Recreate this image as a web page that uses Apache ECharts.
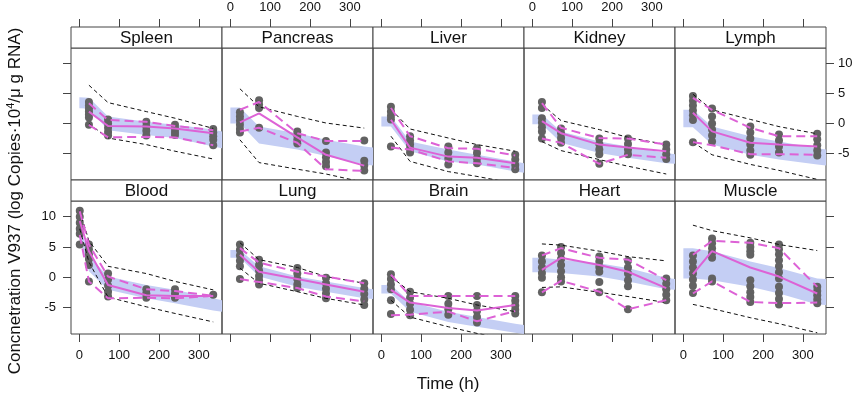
<!DOCTYPE html>
<html lang="en">
<head>
<meta charset="UTF-8">
<title>V937 tissue concentration VPC</title>
<script src="https://cdn.jsdelivr.net/npm/echarts@6/dist/echarts.min.js"></script>
<style>
  html, body { margin: 0; padding: 0; background: #fff; }
  #main { width: 858px; height: 395px; }
</style>
</head>
<body>
<div id="main"></div>
<script>
// panels in lattice order (top row, then bottom row)
var panels = ['Spleen', 'Pancreas', 'Liver', 'Kidney', 'Lymph', 'Blood', 'Lung', 'Brain', 'Heart', 'Muscle'];
var tissueTimes = [24, 72, 168, 240, 336];
var bloodTimes = [1, 24, 72, 168, 240, 336];
var bandTimes = [0, 24, 72, 168, 240, 336, 358];
var xTicks = [0, 100, 200, 300];
var yTicks = [-5, 0, 5, 10];

// observed values, one list per sampling time
var obsPoints = [
  [[3.6, 3.0, 2.5, 2.0, 1.5, 1.0, -0.2], [0.7, 0, -0.7, -1.4, -2.0], [0.3, -0.5, -1.2, -2.0], [-0.2, -0.8, -1.4, -1.9], [-0.9, -1.5, -2.1, -2.7, -3.6]],
  [[1.9, 1.2, 0.5, -0.2, -0.9, -1.5], [3.9, 3.2, 2.6, -0.7], [-1.3, -2.0, -2.7, -3.3], [-2.9, -4.8, -5.6, -6.4, -7.1], [-2.8, -6.2, -7.0, -7.8]],
  [[2.8, 2.0, 1.3, 0.7, -3.8], [-2.1, -2.8, -3.5, -4.2, -4.8], [-3.8, -4.8, -5.8, -6.8], [-4.1, -4.9, -5.8, -6.6], [-5.2, -6.0, -6.9, -7.6]],
  [[3.6, 2.6, 0.9, 0.2, -0.6, -1.3, -2.5], [-0.8, -1.6, -2.4, -3.2], [-2.5, -3.4, -4.3, -5.1, -6.7], [-2.5, -3.4, -4.3, -5.1], [-3.5, -4.3, -5.1, -5.9]],
  [[4.6, 3.8, 3.0, 2.2, 1.4, 0.6, -3.1], [2.5, 1.2, 0, -1.0, -2.0, -3.0], [-0.5, -1.5, -2.5, -3.5, -4.5, -5.2], [-1.8, -2.8, -3.8, -4.8], [-1.7, -2.6, -3.6, -4.5, -5.3]],
  [[11.0, 10.0, 9.0, 8.0, 7.2, 5.4], [5.4, 4.6, 3.8, 3.0, 2.0, -0.7], [0.6, -0.4, -1.4, -2.4, -3.2], [-2.0, -2.7, -3.4], [-2.0, -2.7, -3.4], [-2.9]],
  [[5.4, 4.5, 3.6, 2.7, 1.8, -0.3], [2.9, 2.0, 1.1, 0.2, -0.5, -1.2], [1.5, 0.6, -0.3, -1.2, -1.8], [-0.1, -1.0, -1.9, -2.7, -3.5], [-1.0, -1.9, -2.8, -3.7, -4.6]],
  [[0.5, -0.3, -1.2, -2.0, -3.8, -6.1], [-2.4, -3.4, -4.4, -5.4, -6.3], [-3.1, -4.4, -5.3, -6.2], [-3.1, -4.6, -5.6, -6.6, -7.5], [-3.1, -3.9, -4.7, -5.4, -6.0]],
  [[3.6, 2.6, 1.6, 0.7, -0.1, -2.5], [5.0, 4.0, 3.0, 2.0, 1.0, 0.0, -0.7], [3.4, 2.6, 1.7, 0.9, -0.8, -2.5], [2.7, 1.6, 0.6, -0.5, -1.5, -5.3], [-0.2, -1.1, -2.0, -2.9, -3.8]],
  [[3.6, 2.6, 1.6, 0.6, -0.4, -1.4, -2.6], [6.4, 5.6, 4.8, 4.0, 3.2, -0.2, -0.7], [5.7, 5.0, 4.3, 3.7, -0.5, -1.5, -2.5, -3.3, -4.1], [5.4, 4.6, 3.8, 2.8, 1.8, 0.8, -0.2, -1.6, -2.6, -3.6, -4.5], [-1.6, -2.3, -3.0, -3.7, -4.3]]
];

// observed median and percentiles (pink)
var obsMedian = [
  [2.0, -0.4, -0.5, -0.8, -1.6], [0.2, 1.7, -2.3, -5.2, -7.0], [0.65, -4.0, -5.5, -5.7, -6.6],
  [0.4, -1.6, -3.5, -4.0, -4.6], [1.8, -1.3, -3.2, -3.5, -3.8], [9.3, 4.3, -1.3, -3.0, -3.1, -3.1],
  [3.7, 0.9, -0.3, -1.2, -2.4], [-2.1, -4.2, -5.1, -5.5, -4.6], [1.2, 3.2, 2.0, 0.9, -1.8], [0.5, 4.3, 1.6, 0.1, -2.7]
];
var obsHigh = [
  [3.4, 0.6, 0.3, -0.4, -1.1], [2.3, 3.6, -1.6, -2.9, -2.9], [2.6, -2.1, -4.1, -4.2, -5.3],
  [3.4, -0.7, -2.4, -2.5, -3.5], [4.3, 2.3, -0.7, -2.1, -2.1], [10.9, 5.4, 0.1, -2.0, -2.3, -3.1],
  [4.8, 2.4, 0.9, 0.1, -1.0], [0.4, -3.1, -3.1, -3.1, -3.1], [3.6, 4.8, 3.2, 2.9, -0.5], [3.7, 6.0, 5.7, 4.8, -1.6]
];
var obsLow = [
  [-0.2, -2.3, -2.2, -2.3, -3.6], [-1.3, -0.7, -3.2, -7.6, -7.9], [-4.0, -4.3, -6.3, -6.6, -7.4],
  [-2.5, -3.2, -6.7, -5.2, -5.7], [-3.1, -3.6, -5.1, -5.1, -5.2], [7.0, -0.7, -3.5, -3.4, -3.5, -3.1],
  [-0.3, -0.8, -1.8, -3.2, -4.0], [-6.3, -6.2, -5.7, -7.3, -5.6], [-2.5, -0.6, -2.4, -5.3, -3.8], [-2.7, -0.7, -4.1, -4.3, -4.2]
];

// model prediction interval (black dashed)
var predHigh = [
  [6.4, 3.5, 2.0, 0.9, -0.8], [5.8, 2.8, 1.2, 0.1, -0.75], [2.4, -0.9, -2.4, -3.5, -4.6],
  [3.2, 0.5, -1.0, -2.3, -3.5], [4.9, 2.3, 0.7, -0.5, -1.7], [11.0, 6.0, 1.8, 0.6, -0.7, -2.1],
  [5.7, 2.9, 1.6, 0.1, -1.0], [0.1, -2.4, -3.5, -4.6, -5.7], [5.5, 5.3, 4.3, 3.4, 2.7], [8.6, 7.7, 6.5, 5.4, 4.4]
];
var predLow = [
  [0.0, -2.4, -3.5, -4.6, -5.9], [-2.7, -6.5, -7.6, -8.4, -9.8], [-2.1, -6.3, -8.0, -8.8, -10.0],
  [-3.0, -4.5, -6.0, -7.1, -8.4], [-3.1, -5.2, -6.8, -7.8, -9.3], [8.0, 2.5, -3.3, -4.9, -6.0, -7.4],
  [1.5, -1.0, -2.4, -3.5, -4.6], [-3.8, -6.6, -8.2, -9.3, -10.5], [-1.7, -1.6, -2.5, -3.2, -4.2], [-4.5, -5.2, -6.7, -7.7, -9.2]
];

// CI of predicted median (blue band), at bandTimes
var bandLow = [
  [2.55, 2.5, -1.1, -1.9, -2.4, -3.8, -4.1], [0, 0, -3.3, -4.3, -5.4, -6.8, -7.0], [-0.5, -0.5, -4.6, -6.3, -6.8, -8.0, -8.2],
  [-0.1, -0.1, -3.2, -4.9, -5.7, -6.6, -6.7], [-0.6, -0.6, -3.5, -5.2, -6.0, -6.8, -7.0], [6.5, 1.0, -2.1, -3.5, -4.3, -5.5, -5.7],
  [3.2, 3.2, 0.1, -1.6, -2.4, -3.5, -3.6], [-2.7, -2.7, -5.7, -7.4, -8.2, -9.2, -9.4], [0.8, 0.8, 0.7, 0.1, -0.7, -2.0, -2.1],
  [-0.2, -0.2, -0.5, -1.6, -2.7, -4.5, -4.6]
];
var bandHigh = [
  [4.4, 4.3, 1.2, 0.3, -0.2, -1.0, -1.3], [2.7, 2.7, -0.5, -1.6, -2.7, -3.8, -4.0], [1.2, 1.2, -3.0, -4.3, -5.2, -6.3, -6.6],
  [1.5, 1.5, -1.3, -3.0, -3.8, -4.9, -5.1], [2.3, 2.3, -0.5, -2.1, -3.0, -4.1, -4.3], [9.0, 3.5, 0.1, -1.3, -2.1, -3.5, -3.8],
  [4.5, 4.5, 1.8, 0.1, -0.7, -1.8, -2.0], [-1.3, -1.3, -4.1, -5.7, -6.6, -7.7, -7.9], [3.2, 3.2, 2.9, 2.3, 1.5, -0.1, -0.3],
  [4.8, 4.8, 4.3, 2.6, 1.5, -0.2, -0.3]
];

var FONT = 'Liberation Sans';
var PINK = '#dd62d6';
var BAND = '#c4cef4';
var FRAME = '#444';
var PLEFT = 71, PW = 151, PTOP = [48, 201], PH = [132, 133], STRIP = 21;

function pairs(ts, vs) {
  return ts.map(function (t, i) { return [t, vs[i]]; });
}

var grids = [], xAxes = [], yAxes = [], series = [], graphics = [];

panels.forEach(function (name, p) {
  var row = p < 5 ? 0 : 1, col = p % 5;
  var left = PLEFT + PW * col, top = PTOP[row];
  var times = name === 'Blood' ? bloodTimes : tissueTimes;

  grids.push({ left: left, top: top, width: PW, height: PH[row], show: true, borderColor: FRAME, borderWidth: 1 });

  var xLabelShown = row === 0 ? (col === 1 || col === 3) : (col % 2 === 0);
  xAxes.push({
    gridIndex: p, type: 'value', min: -21, max: 358,
    position: row === 0 ? 'top' : 'bottom',
    offset: row === 0 ? STRIP : 0,
    axisLine: { show: false, onZero: false },
    axisTick: { show: true, length: 8, lineStyle: { color: FRAME }, customValues: xTicks },
    axisLabel: { show: xLabelShown, customValues: xTicks, fontSize: 13, fontFamily: FONT, color: '#111', margin: row === 0 ? 13 : 15 },
    splitLine: { show: false }
  });

  var yOn = col === 0 || col === 4;
  var yLabelShown = (col === 0 && row === 1) || (col === 4 && row === 0);
  yAxes.push({
    gridIndex: p, type: 'value', min: -9.4, max: 12.6,
    position: col === 4 ? 'right' : 'left',
    axisLine: { show: false, onZero: false },
    axisTick: { show: yOn, length: 8, lineStyle: { color: FRAME }, customValues: yTicks },
    axisLabel: { show: yLabelShown, customValues: yTicks, fontSize: 13, fontFamily: FONT, color: '#111', margin: col === 4 ? 12 : 15 },
    splitLine: { show: false }
  });

  // blue band
  series.push({
    type: 'custom', xAxisIndex: p, yAxisIndex: p, z: 1, silent: true,
    data: [0],
    renderItem: (function (pi) {
      return function (params, api) {
        var pts = [];
        bandTimes.forEach(function (t, i) { pts.push(api.coord([t, bandHigh[pi][i]])); });
        for (var i = bandTimes.length - 1; i >= 0; i--) pts.push(api.coord([bandTimes[i], bandLow[pi][i]]));
        return { type: 'polygon', shape: { points: pts }, style: { fill: BAND } };
      };
    })(p)
  });

  // observations
  var pts = [];
  obsPoints[p].forEach(function (list, k) {
    list.forEach(function (v) { pts.push([times[k], v]); });
  });
  series.push({
    type: 'scatter', xAxisIndex: p, yAxisIndex: p, z: 3, silent: true,
    symbolSize: 8, itemStyle: { color: '#626262', opacity: 1 },
    data: pts
  });

  // prediction interval
  [predHigh, predLow].forEach(function (arr) {
    series.push({
      type: 'line', xAxisIndex: p, yAxisIndex: p, z: 4, silent: true, symbol: 'none',
      lineStyle: { color: '#111', width: 1, type: [4, 3] },
      data: pairs(times, arr[p])
    });
  });

  // observed percentiles
  [obsHigh, obsLow].forEach(function (arr) {
    series.push({
      type: 'line', xAxisIndex: p, yAxisIndex: p, z: 5, silent: true, symbol: 'none',
      lineStyle: { color: PINK, width: 2, type: [9, 5] },
      data: pairs(times, arr[p])
    });
  });
  series.push({
    type: 'line', xAxisIndex: p, yAxisIndex: p, z: 5, silent: true, symbol: 'none',
    lineStyle: { color: PINK, width: 2 },
    data: pairs(times, obsMedian[p])
  });

  // strip
  graphics.push({
    type: 'rect', z: 10,
    shape: { x: left, y: top - STRIP, width: PW, height: STRIP },
    style: { fill: '#fff', stroke: FRAME, lineWidth: 1 }
  });
  graphics.push({
    type: 'text', z: 11, x: left + PW / 2, y: top - STRIP / 2 + 1,
    style: { text: name, fontSize: 17, fontFamily: FONT, fill: '#111', align: 'center', verticalAlign: 'middle' }
  });
});

graphics.push({
  type: 'text', x: 448, y: 384,
  style: { text: 'Time (h)', fontSize: 17, fontFamily: FONT, fill: '#111', align: 'center', verticalAlign: 'middle' }
});
graphics.push({
  type: 'text', x: 15, y: 201, rotation: Math.PI / 2,
  style: {
    text: 'Concnetration V937 (log Copies·10{sup|4}/μ g RNA)',
    fontSize: 17, fontFamily: FONT, fill: '#111', align: 'center', verticalAlign: 'middle',
    rich: { sup: { fontSize: 11, fontFamily: FONT, fill: '#111', verticalAlign: 'top', padding: [0, 0, 8, 0] } }
  }
});

var chart = echarts.init(document.getElementById('main'), null, { renderer: 'canvas' });
chart.setOption({
  animation: false,
  backgroundColor: '#fff',
  grid: grids,
  xAxis: xAxes,
  yAxis: yAxes,
  series: series,
  graphic: graphics
});
</script>
</body>
</html>
